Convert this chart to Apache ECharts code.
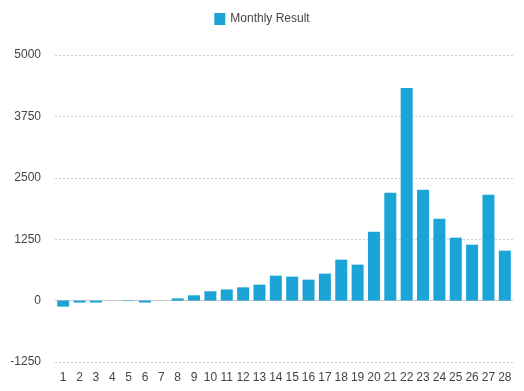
<!DOCTYPE html>
<html>
<head>
<meta charset="utf-8">
<script src="https://cdn.jsdelivr.net/npm/echarts@6/dist/echarts.min.js"></script>
<style>
html,body{margin:0;padding:0;background:#fff;}
#chart{width:524px;height:391px;}
</style>
</head>
<body>
<div id="chart"></div>
<script>
const categories = ['1','2','3','4','5','6','7','8','9','10','11','12','13','14','15','16','17','18','19','20','21','22','23','24','25','26','27','28'];
const monthlyResult = [-122,-40,-40,0,-10,-40,0,45,108,190,228,270,325,508,488,427,549,834,732,1403,2196,4330,2257,1667,1281,1138,2155,1017];
const seriesName = 'Monthly Result';
const yMin = -1250, yMax = 5000, yInterval = 1250;

const chart = echarts.init(document.getElementById('chart'));
const font = '"Helvetica Neue", Helvetica, "Liberation Sans", Arial, sans-serif';
chart.setOption({
  animation: false,
  textStyle: { fontFamily: font },
  legend: {
    top: 8,
    left: 'center',
    icon: 'rect',
    itemWidth: 11,
    itemHeight: 12,
    itemGap: 10,
    textStyle: { color: '#444', fontSize: 12, fontFamily: font },
    data: [seriesName]
  },
  grid: { left: 55, right: 11, top: 55, bottom: 29, containLabel: false },
  xAxis: {
    type: 'category',
    data: categories,
    axisLine: { show: true, lineStyle: { color: '#c8c8c8', width: 1 } },
    axisTick: { show: false },
    axisLabel: { color: '#444', fontSize: 12, margin: 10, interval: 0, fontFamily: font },
    splitLine: { show: false }
  },
  yAxis: {
    type: 'value',
    min: yMin, max: yMax, interval: yInterval,
    axisLine: { show: false },
    axisTick: { show: false },
    axisLabel: { color: '#444', fontSize: 12, margin: 14, fontFamily: font, formatter: function (v) { return String(v); } },
    splitLine: { show: true, lineStyle: { color: '#cccccc', type: [2, 2], width: 1 } }
  },
  series: [{
    name: seriesName,
    type: 'bar',
    data: monthlyResult,
    barWidth: 12,
    itemStyle: { color: '#1ca4d6' }
  }]
});
</script>
</body>
</html>
